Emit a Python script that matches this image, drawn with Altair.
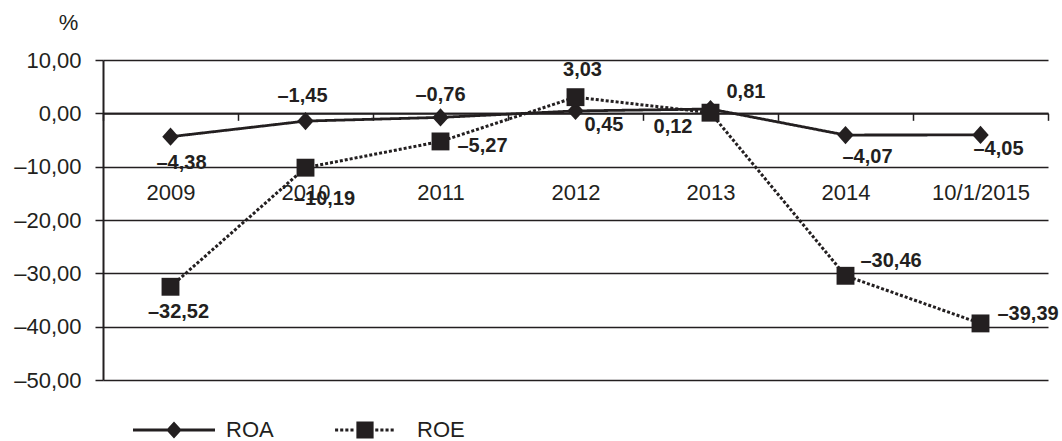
import altair as alt
import pandas as pd

# ---- data -------------------------------------------------------------
categories = ["2009", "2010", "2011", "2012", "2013", "2014", "10/1/2015"]
roa = [-4.38, -1.45, -0.76, 0.45, 0.81, -4.07, -4.05]
roe = [-32.52, -10.19, -5.27, 3.03, 0.12, -30.46, -39.39]
series = ["ROA", "ROE"]

INK = "#231f20"
FONT = "Liberation Sans"


def fmt(v):
    s = f"{abs(v):.2f}".replace(".", ",")
    return "–" + s if v < 0 else s


rows = []
for name, vals in zip(series, [roa, roe]):
    for i, (c, v) in enumerate(zip(categories, vals)):
        rows.append({"series": name, "cat": c, "idx": i, "value": v, "label": fmt(v)})
df = pd.DataFrame(rows)

# value-label placement: (series, category index) -> (align, dx, dy)
label_layout = {
    ("ROA", 0): ("center", 11, 26),
    ("ROA", 1): ("center", -3, -25),
    ("ROA", 2): ("center", 0, -22),
    ("ROA", 3): ("left", 9, 14),
    ("ROA", 4): ("left", 16, -17),
    ("ROA", 5): ("center", 22, 22),
    ("ROA", 6): ("center", 18, 14),
    ("ROE", 0): ("center", 8, 25),
    ("ROE", 1): ("center", 19, 31),
    ("ROE", 2): ("left", 17, 5),
    ("ROE", 3): ("center", 7, -27),
    ("ROE", 4): ("right", -18, 14),
    ("ROE", 5): ("left", 15, -15),
    ("ROE", 6): ("left", 17, -9),
}

# per-series styling: line dash, line width, marker path, marker size
DIAMOND = "M0,-1.05L0.95,0L0,1.05L-0.95,0Z"
style = {
    "ROA": {"dash": [1, 0], "width": 2.8, "shape": DIAMOND, "size": 300},
    "ROE": {"dash": [3, 2], "width": 3, "shape": "square", "size": 320},
}


# ---- legend glyphs (filled paths, 1 unit = 41 px) ---------------------
def rect(x0, y0, x1, y1):
    return f"M{x0:.3f},{y0:.3f}L{x1:.3f},{y0:.3f}L{x1:.3f},{y1:.3f}L{x0:.3f},{y1:.3f}Z"


def dotted(x_from, x_to, dot=0.075, gap=0.05):
    parts, x = [], x_from
    while x + dot <= x_to + 1e-9:
        parts.append(rect(x, -0.037, x + dot, 0.037))
        x += dot + gap
    return "".join(parts)


KEY_ROA = rect(-1, -0.037, 1, 0.037) + "M0,-0.21L0.19,0L0,0.21L-0.19,0Z"
KEY_ROE = dotted(-0.73, -0.2) + rect(-0.21, -0.21, 0.21, 0.21) + dotted(0.25, 0.73)
KEY_SIZE = 6724

# ---- scales -----------------------------------------------------------
x_scale = alt.Scale(domain=[-0.5, len(categories) - 0.5], nice=False, zero=False)
y_scale = alt.Scale(domain=[-50, 10], nice=False, zero=False)

boundaries = [i - 0.5 for i in range(len(categories) + 1)]
cat_expr = "[" + ",".join(f"'{c}'" for c in categories) + "][datum.value]"

x_tick_axis = alt.Axis(
    values=boundaries,
    orient="bottom",
    offset=-266.67,
    labels=False,
    grid=False,
    tickSize=7,
    tickWidth=1.5,
    tickColor=INK,
    domainColor=INK,
    domainWidth=2,
    title=None,
)
x_label_axis = alt.Axis(
    values=list(range(len(categories))),
    orient="bottom",
    offset=-187.5,
    ticks=False,
    domain=False,
    grid=False,
    labelExpr=cat_expr,
    labelBaseline="middle",
    labelPadding=0,
    labelFont=FONT,
    labelFontSize=22,
    labelColor=INK,
    labelFlush=False,
    labelOverlap=False,
    title=None,
)
y_axis = alt.Axis(
    values=list(range(-50, 11, 10)),
    title="%",
    titleAngle=0,
    titleX=-35,
    titleY=-38,
    titleAlign="center",
    titleBaseline="middle",
    titleFont=FONT,
    titleFontSize=22,
    titleFontWeight="normal",
    titleColor=INK,
    labelExpr="(datum.value < 0 ? '–' : '') + replace(format(abs(datum.value), '.2f'), '.', ',')",
    labelFont=FONT,
    labelFontSize=22,
    labelColor=INK,
    labelPadding=14,
    tickSize=8,
    tickWidth=1.5,
    tickColor=INK,
    domainColor=INK,
    domainWidth=2,
    gridColor=INK,
    gridWidth=1.5,
)
Y = alt.Y("value:Q", scale=y_scale, axis=y_axis)

base = alt.Chart(df)

layers = []
for k, s in enumerate(series):
    st = style[s]
    sub = base.transform_filter(alt.datum.series == s)
    layers.append(
        sub.mark_line(color=INK, strokeDash=st["dash"], strokeWidth=st["width"]).encode(
            x=alt.X("idx:Q", scale=x_scale, axis=x_tick_axis if k == 0 else None),
            y=Y,
        )
    )
for k, s in enumerate(series):
    st = style[s]
    sub = base.transform_filter(alt.datum.series == s)
    layers.append(
        sub.mark_point(
            filled=True, color=INK, opacity=1, shape=st["shape"], size=st["size"]
        ).encode(
            x=alt.X("idx:Q", scale=x_scale, axis=x_label_axis if k == 0 else None),
            y=Y,
        )
    )

# legend-only layer (no rows survive the filter; the scale domain carries the entries)
key = (
    base.transform_filter("false")
    .mark_point(filled=True, color=INK, opacity=1)
    .encode(
        x=alt.X("idx:Q", scale=x_scale, axis=None),
        y=Y,
        shape=alt.Shape(
            "series:N",
            scale=alt.Scale(domain=series, range=[KEY_ROA, KEY_ROE]),
            legend=alt.Legend(
                title=None,
                orient="none",
                legendX=30,
                legendY=329,
                direction="horizontal",
                padding=0,
                symbolSize=KEY_SIZE,
                symbolFillColor=INK,
                symbolStrokeWidth=0,
                symbolOpacity=1,
                labelFont=FONT,
                labelFontSize=22,
                labelColor=INK,
                labelOffset=11,
                columnPadding=50,
            ),
        ),
    )
)
layers.append(key)

for (s, i), (align, dx, dy) in label_layout.items():
    layers.append(
        base.transform_filter((alt.datum.series == s) & (alt.datum.idx == i))
        .mark_text(
            align=align,
            baseline="middle",
            dx=dx,
            dy=dy,
            font=FONT,
            fontSize=20,
            fontWeight="bold",
            color=INK,
        )
        .encode(
            x=alt.X("idx:Q", scale=x_scale, axis=None),
            y=Y,
            text="label:N",
        )
    )

chart = (
    alt.layer(*layers)
    .resolve_axis(x="independent")
    .properties(
        width=945,
        height=320,
        autosize=alt.AutoSizeParams(type="none"),
        padding={"left": 103, "top": 60, "right": 14, "bottom": 61},
        background="white",
    )
    .configure_view(stroke=None)
)

chart.save("out.html", embed_options={"renderer": "svg", "actions": False})
